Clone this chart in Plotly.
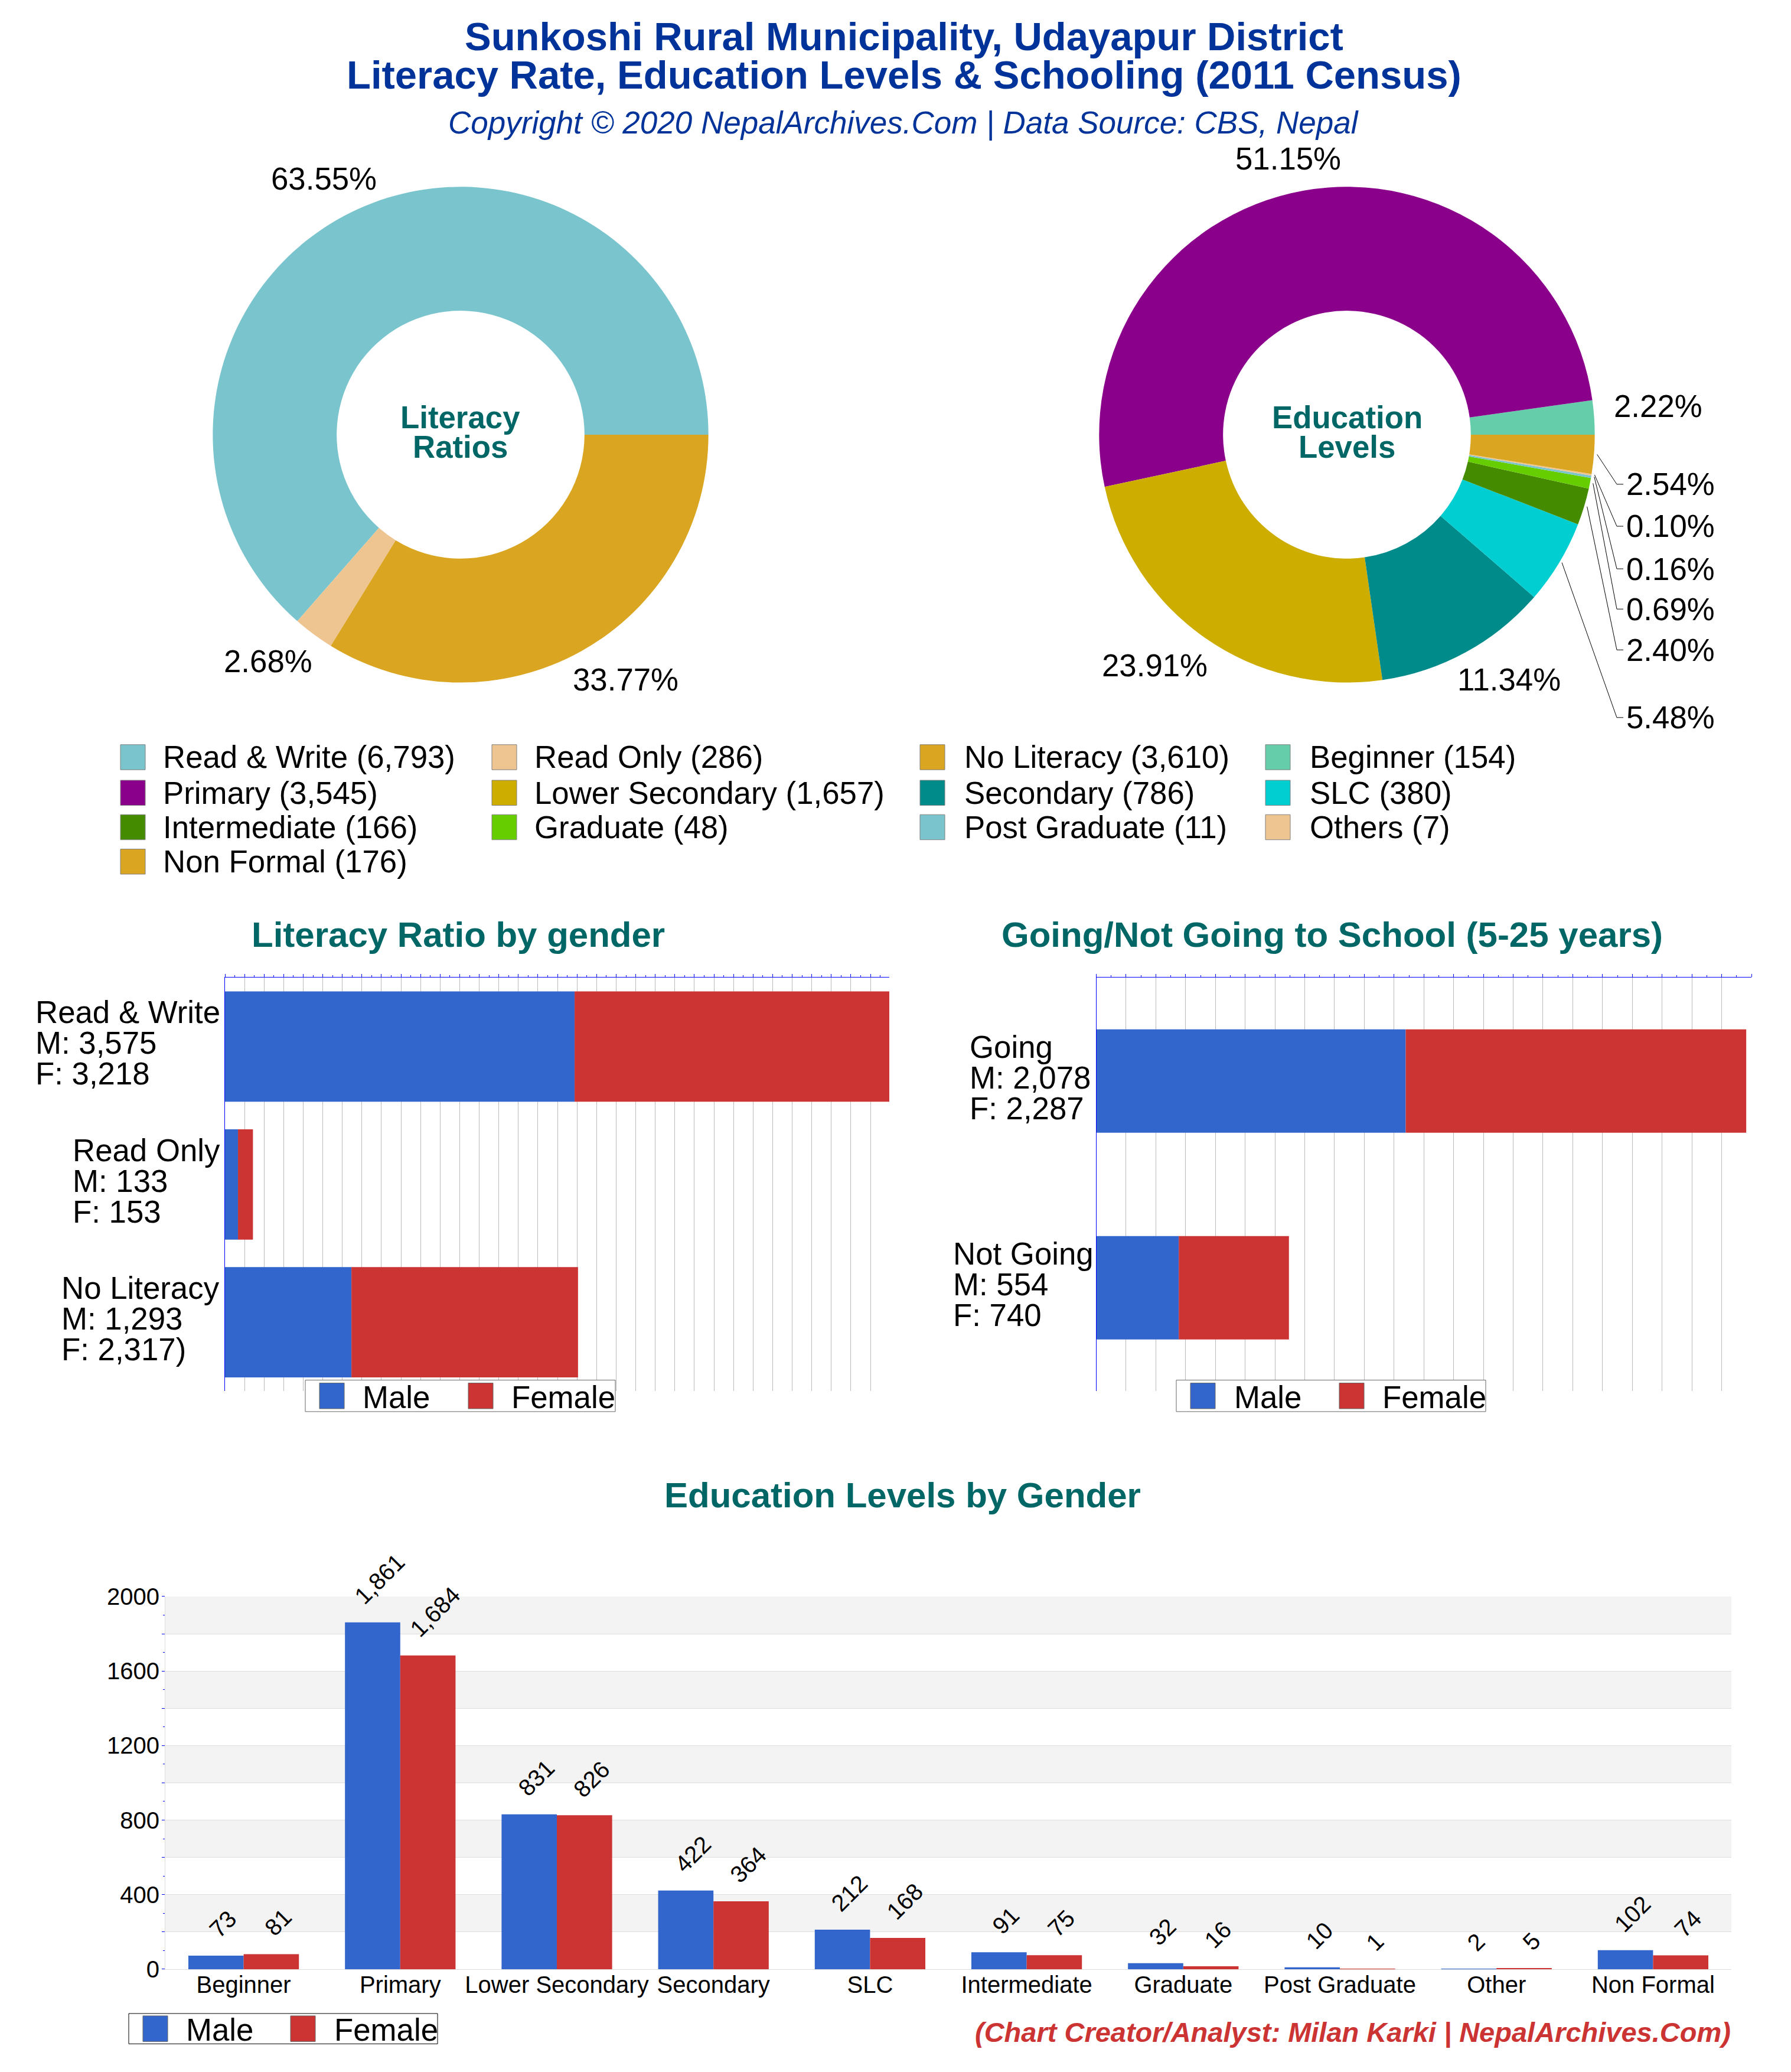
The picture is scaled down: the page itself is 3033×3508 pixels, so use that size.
import math
import plotly.graph_objects as go

# ---------- data ----------
lit_categories = ["Read & Write", "Read Only", "No Literacy"]
lit_male = [3575, 133, 1293]
lit_female = [3218, 153, 2317]
lit_suffix = ["", "", ")"]
lit_totals = [6793, 286, 3610]

edu_pie_labels = ["Beginner", "Primary", "Lower Secondary", "Secondary", "SLC",
                  "Intermediate", "Graduate", "Post Graduate", "Others", "Non Formal"]
edu_totals = [154, 3545, 1657, 786, 380, 166, 48, 11, 7, 176]

school_categories = ["Going", "Not Going"]
school_male = [2078, 554]
school_female = [2287, 740]

edu_categories = ["Beginner", "Primary", "Lower Secondary", "Secondary", "SLC",
                  "Intermediate", "Graduate", "Post Graduate", "Other", "Non Formal"]
edu_male = [73, 1861, 831, 422, 212, 91, 32, 10, 2, 102]
edu_female = [81, 1684, 826, 364, 168, 75, 16, 1, 5, 74]

edu_y_ticks = [0, 200, 400, 600, 800, 1000, 1200, 1400, 1600, 1800, 2000]
edu_y_labels = ["0", "", "400", "", "800", "", "1200", "", "1600", "", "2000"]

# ---------- styles ----------
W, H = 3033, 3508
FONT = "Liberation Sans"
BLUE, RED = "#3366CC", "#CC3333"
TITLE_BLUE = "#003399"
TEAL = "#006666"
LS = 52.8
lit_colors = ["#7AC5CD", "#EEC591", "#DAA520"]
edu_colors = ["#66CDAA", "#8B008B", "#CDAD00", "#008B8B", "#00CED1",
              "#458B00", "#66CD00", "#7AC5CD", "#EEC591", "#DAA520"]


def fx(x):
    return x / W


def fy(y):
    return 1 - y / H


annotations = []
shapes = []


def txt(x, y, text, size=LS, color="#000000", anchor="center", bold=False, italic=False, yanchor="middle"):
    annotations.append(dict(
        x=fx(x), y=fy(y), xref="paper", yref="paper", text=text, showarrow=False,
        xanchor=anchor, yanchor=yanchor, borderpad=0,
        font=dict(family=FONT, size=size, color=color,
                  weight="bold" if bold else "normal",
                  style="italic" if italic else "normal")))


def rect(x0, y0, x1, y1, fill, line, width=1):
    shapes.append(dict(type="rect", xref="paper", yref="paper",
                       x0=fx(x0), x1=fx(x1), y0=fy(y0), y1=fy(y1),
                       fillcolor=fill, line=dict(color=line, width=width), layer="above"))


fig = go.Figure()

# ---------- titles ----------
txt(1531, 40, "Sunkoshi Rural Municipality, Udayapur District", 67, TITLE_BLUE, bold=True)
txt(1531, 106, "Literacy Rate, Education Levels & Schooling (2011 Census)", 67, TITLE_BLUE, bold=True)
txt(1530, 188, "Copyright © 2020 NepalArchives.Com | Data Source: CBS, Nepal", 53, TITLE_BLUE, italic=True)

# ---------- pies ----------
CY = 723
R = 425
P1X, P2X = 780, 2281


def pie(labels, values, colors, cx):
    first_share = values[0] / sum(values)
    fig.add_trace(go.Pie(
        labels=labels, values=values, marker=dict(colors=colors, line=dict(width=0)),
        hole=0.5, sort=False, direction="counterclockwise", rotation=90 - first_share * 360,
        textinfo="none", showlegend=False, hoverinfo="label+value+percent",
        domain=dict(x=[fx(cx - R), fx(cx + R)], y=[fy(CY + R), fy(CY - R)])))


pie(lit_categories, lit_totals, lit_colors, P1X)
pie(edu_pie_labels, edu_totals, edu_colors, P2X)

txt(P1X, 693, "Literacy", LS, TEAL, bold=True)
txt(P1X, 744, "Ratios", LS, TEAL, bold=True)
txt(P2X, 693, "Education", LS, TEAL, bold=True)
txt(P2X, 744, "Levels", LS, TEAL, bold=True)

lit_sum = sum(lit_totals)
edu_sum = sum(edu_totals)
lit_pct = [f"{v / lit_sum * 100:.2f}%" for v in lit_totals]
edu_pct = [f"{v / edu_sum * 100:.2f}%" for v in edu_totals]

for (x, y), t in zip([(548, 284), (454, 1111), (1059, 1143)], lit_pct):
    txt(x, y, t)
for i, (x, y) in {0: (2808, 674), 1: (2181, 250), 2: (1955, 1119), 3: (2555, 1143)}.items():
    txt(x, y, edu_pct[i])

# leader lines for the thin education slices
leader_rows = {9: 808, 8: 880, 7: 953, 6: 1022, 5: 1092, 4: 1208}
cum = 0
for i, v in enumerate(edu_totals):
    mid = (cum + v / 2) / edu_sum * 2 * math.pi
    cum += v
    if i in leader_rows:
        ly = leader_rows[i]
        sx = P2X + R * math.cos(mid)
        sy = CY - R * math.sin(mid)
        path = f"M {fx(sx)} {fy(sy)} L {fx(2738)} {fy(ly)} L {fx(2749)} {fy(ly)}"
        shapes.append(dict(type="path", xref="paper", yref="paper", path=path,
                           line=dict(color="#000000", width=1), layer="above"))
        txt(2753, ly, edu_pct[i], anchor="left")

# ---------- pie legend ----------
legend_items = [(n, v, c) for n, v, c in zip(lit_categories, lit_totals, lit_colors)]
legend_items += [(n, v, c) for n, v, c in zip(edu_pie_labels, edu_totals, edu_colors)]
col_sw = [204, 833, 1558, 2143]
col_tx = [275, 904, 1632, 2217]
row_y = [1276, 1337, 1396, 1455]
for k, (n, v, c) in enumerate(legend_items):
    r, q = divmod(k, 4)
    rect(col_sw[q], row_y[r] - 21.5, col_sw[q] + 42, row_y[r] + 21.5, c, "#808080")
    txt(col_tx[q], row_y[r], f"{n} ({v:,})", anchor="left")


# ---------- gender legends ----------
def gender_legend(x0, y0, x1, y1, m_sw, m_tx, f_sw, f_tx, sw_w, sw_h, line):
    rect(x0, y0, x1, y1, "#FFFFFF", line)
    cy = (y0 + y1) / 2
    rect(m_sw, cy - sw_h / 2, m_sw + sw_w, cy + sw_h / 2, BLUE, "#666666")
    rect(f_sw, cy - sw_h / 2, f_sw + sw_w, cy + sw_h / 2, RED, "#666666")
    txt(m_tx, cy + 2, "Male", anchor="left")
    txt(f_tx, cy + 2, "Female", anchor="left")


# ---------- horizontal stacked bars ----------
TOP, BOT = 1654, 2363


def hbars(cats, male, female, xn, yn, axis_x0, axis_x1, xmax, width):
    fig.add_trace(go.Bar(y=cats, x=male, orientation="h", name="Male", width=width,
                         marker=dict(color=BLUE, line=dict(width=0)), showlegend=False, xaxis=f"x{xn}", yaxis=f"y{yn}"))
    fig.add_trace(go.Bar(y=cats, x=female, base=male, orientation="h", name="Female", width=width,
                         marker=dict(color=RED, line=dict(width=0)), showlegend=False, xaxis=f"x{xn}", yaxis=f"y{yn}"))
    xa = dict(domain=[fx(axis_x0), fx(axis_x1)], range=[0, xmax], side="top", anchor=f"y{yn}",
              showline=True, linecolor="#0000FF", linewidth=1, ticks="outside", ticklen=5, tickwidth=1,
              tickcolor="#0000FF", dtick=200, tick0=0, showticklabels=False, showgrid=True, gridcolor="#BBBBBB",
              gridwidth=1, zeroline=False,
              minor=dict(dtick=100, ticks="outside", ticklen=3, tickcolor="#0000FF", tickwidth=1, showgrid=False))
    ya = dict(domain=[fy(BOT), fy(TOP)], range=[len(cats) - 0.5, -0.5], type="category", categoryarray=cats,
              anchor=f"x{xn}", showline=True, linecolor="#0000FF", linewidth=1, ticks="",
              showticklabels=False, showgrid=False, zeroline=False)
    return xa, ya


def block_labels(yn, cats, male, female, suffix, lefts):
    for i, c in enumerate(cats):
        lines = [c, f"M: {male[i]:,}", f"F: {female[i]:,}{suffix[i]}"]
        for line, shift in zip(lines, (58, 6, -46)):
            annotations.append(dict(
                x=fx(lefts[i]), y=i, xref="paper", yref=f"y{yn}", text=line, showarrow=False,
                xanchor="left", yanchor="middle", yshift=shift, borderpad=0,
                font=dict(family=FONT, size=LS, color="#000000")))


x1, y1 = hbars(lit_categories, lit_male, lit_female, 1, 1, 381, 1506, 6793, 0.8)
x2, y2 = hbars(school_categories, school_male, school_female, 2, 2, 1856.5, 2966, 4400, 0.5)
block_labels(1, lit_categories, lit_male, lit_female, lit_suffix, [59, 122, 103])
block_labels(2, school_categories, school_male, school_female, ["", ""], [1641, 1613])

txt(776, 1580, "Literacy Ratio by gender", 60, TEAL, bold=True)
txt(2256, 1580, "Going/Not Going to School (5-25 years)", 60, TEAL, bold=True)
txt(1528, 2541, "Education Levels by Gender", 60, TEAL, bold=True)

gender_legend(517, 2344, 1042, 2398, 541, 613, 793, 865, 42, 44, "#666666")
gender_legend(1992, 2344, 2516, 2398, 2016, 2089, 2268, 2340, 42, 44, "#666666")

# ---------- grouped bars ----------
BW = 0.353
fig.add_trace(go.Bar(x=edu_categories, y=edu_male, name="Male", width=BW, offset=-BW,
                     marker=dict(color=BLUE, line=dict(width=0)), showlegend=False, xaxis="x3", yaxis="y3"))
fig.add_trace(go.Bar(x=edu_categories, y=edu_female, name="Female", width=BW, offset=0,
                     marker=dict(color=RED, line=dict(width=0)), showlegend=False, xaxis="x3", yaxis="y3"))

for i, (m, f) in enumerate(zip(edu_male, edu_female)):
    for v, off in ((m, -BW / 2), (f, BW / 2)):
        annotations.append(dict(
            x=i + off, y=v, xref="x3", yref="y3", text=f"{v:,}", showarrow=False, textangle=-45,
            xanchor="center", yanchor="bottom", xshift=12, yshift=21, borderpad=0,
            font=dict(family=FONT, size=40, color="#000000")))

for lo, hi in zip(edu_y_ticks[1::2], edu_y_ticks[2::2]):
    shapes.append(dict(type="rect", xref="x3 domain", yref="y3", x0=0, x1=1, y0=lo, y1=hi,
                       fillcolor="#F3F3F3", line=dict(width=0), layer="below"))

gender_legend(218, 3430, 741, 3482, 242, 314, 492, 565, 42, 44, "#000000")
txt(2932, 3462, "(Chart Creator/Analyst: Milan Karki | NepalArchives.Com)", 47, RED, anchor="right", bold=True, italic=True)

fig.update_layout(
    width=W, height=H, margin=dict(l=0, r=0, t=0, b=0), autosize=False,
    paper_bgcolor="#FFFFFF", plot_bgcolor="rgba(0,0,0,0)", barmode="overlay",
    font=dict(family=FONT, color="#000000"),
    annotations=annotations, shapes=shapes,
    xaxis=x1, yaxis=y1, xaxis2=x2, yaxis2=y2,
    xaxis3=dict(domain=[fx(280), fx(2932)], anchor="y3", type="category", categoryarray=edu_categories,
                range=[-0.5, 9.5], showline=True, linecolor="#DDDDDD", linewidth=1, ticks="", tickangle=0,
                ticklabelstandoff=-9,
                tickfont=dict(family=FONT, size=40, color="#000000"), showgrid=False, zeroline=False),
    yaxis3=dict(domain=[fy(3354), fy(2715)], anchor="x3", range=[0, 2000], tickvals=edu_y_ticks, ticktext=edu_y_labels,
                ticks="outside", ticklen=5, tickwidth=1, tickcolor="#0000FF", showline=True, linecolor="#DDDDDD",
                linewidth=1, showgrid=True, gridcolor="#DDDDDD", gridwidth=1, zeroline=False, ticklabelstandoff=-4,
                tickfont=dict(family=FONT, size=40, color="#000000"),
                minor=dict(dtick=100, ticks="outside", ticklen=3, tickcolor="#0000FF", tickwidth=1, showgrid=False)),
)

fig.write_html("out.html", config=dict(displayModeBar=False),
               post_script="document.body.style.margin='0';")
